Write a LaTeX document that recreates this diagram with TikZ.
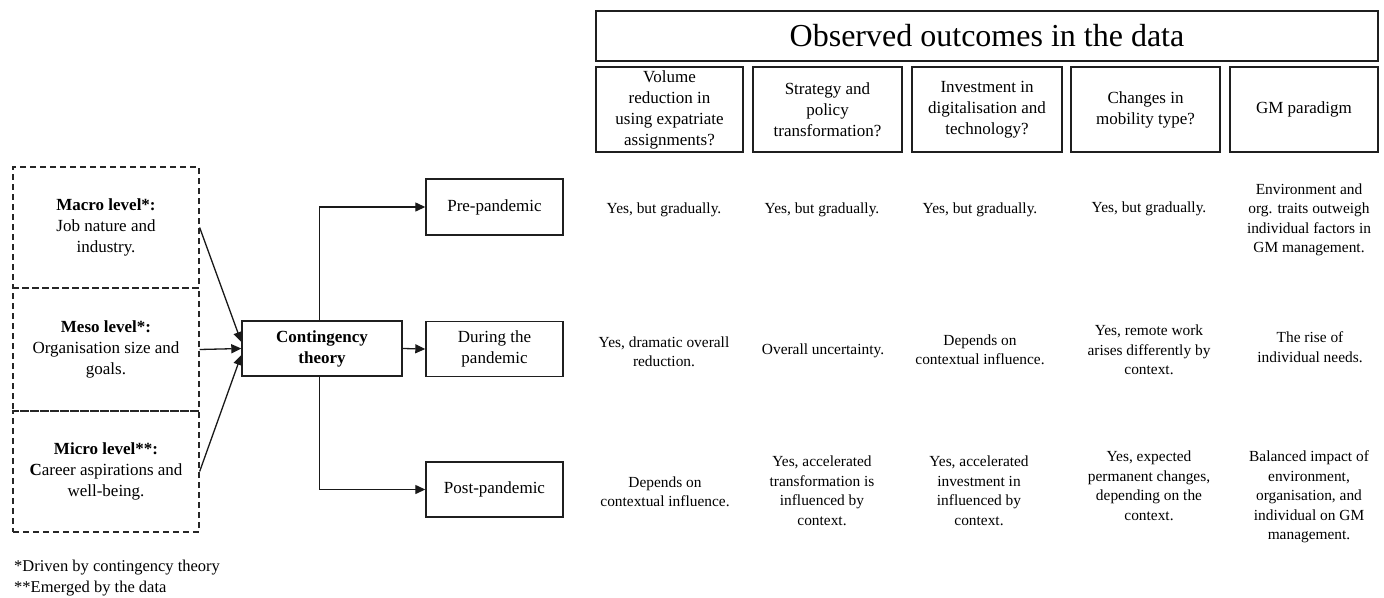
\documentclass[tikz,border=0pt]{standalone}
\usepackage{fontspec}
\setmainfont{Liberation Serif}
\usetikzlibrary{arrows.meta}
\newcommand{\fsbig}{\fontsize{32}{38}\selectfont}
\newcommand{\fsmid}{\fontsize{17}{21}\selectfont}
\newcommand{\fshead}{\fontsize{17}{21}\selectfont}
\newcommand{\fsbody}{\fontsize{15.4}{19.5}\selectfont}
\begin{document}
\begin{tikzpicture}[x=1pt,y=-1pt,
  solidbox/.style={draw=black!88, line width=1.4pt, inner sep=0pt, align=center, font=\fsmid},
  headbox/.style={draw=black!88, line width=1.5pt, inner sep=0pt, align=center, font=\fshead, minimum height=85pt},
  dashbox/.style={draw=black!85, line width=1.3pt, dash pattern=on 6pt off 4pt, inner sep=0pt, align=center, font=\fsmid, minimum width=186pt},
  cell/.style={align=center, font=\fsbody, inner sep=0pt},
  arr/.style={draw=black!90, line width=1.3pt, -{Triangle[length=10pt,width=9pt]}},
  plain/.style={draw=black!90, line width=1.2pt}]
\useasboundingbox (0,0) rectangle (1384,597);

% title and headers
\node[solidbox, font=\fsbig, line width=1.3pt, minimum width=782pt, minimum height=50pt] (title) at (987,36) {Observed outcomes in the data};
\node[headbox, minimum width=147pt] (h1) at (669.5,109.5) {Volume\\reduction in\\using expatriate\\assignments?};
\node[headbox, minimum width=149pt] (h2) at (827.5,109.5) {Strategy and\\policy\\transformation?};
\node[headbox, minimum width=150pt] (h3) at (987,109.5) {Investment in\\digitalisation and\\technology?};
\node[headbox, minimum width=149pt] (h4) at (1145.5,109.5) {Changes in\\mobility type?};
\node[headbox, minimum width=148pt] (h5) at (1304,109.5) {GM paradigm};

% left levels
\node[dashbox, minimum height=121pt] (macro) at (106,227.5) {\textbf{Macro level*:}\\Job nature and\\industry.};
\node[dashbox, minimum height=123pt] (meso) at (106,349.5) {\textbf{Meso level*:}\\Organisation size and\\goals.};
\node[dashbox, minimum height=121pt] (micro) at (106,471.5) {\textbf{Micro level**:}\\\textbf{C}areer aspirations and\\well-being.};

% centre
\node[solidbox, minimum width=160pt, minimum height=55pt] (cont) at (322,348.5) {\textbf{Contingency}\\\textbf{theory}};
\node[solidbox, minimum width=137pt, minimum height=56pt] (pre) at (494.5,207) {Pre-pandemic};
\node[solidbox, minimum width=137pt, minimum height=55pt] (dur) at (494.5,349) {During the\\pandemic};
\node[solidbox, minimum width=137pt, minimum height=55pt] (post) at (494.5,489.5) {Post-pandemic};

% connectors
\draw[arr] (macro.east) -- ([yshift=6.5pt]cont.west);
\draw[arr] (meso.east) -- (cont.west);
\draw[arr] (micro.east) -- ([yshift=-6.5pt]cont.west);
\draw[arr] ([xshift=-2.5pt]cont.north) |- (pre.west);
\draw[arr] ([xshift=-2.5pt]cont.south) |- (post.west);
\draw[arr] (cont.east) -- (dur.west);

% row 1
\node[cell] (r1c1) at (664,210) {Yes, but gradually.};
\node[cell] (r1c2) at (822,210) {Yes, but gradually.};
\node[cell] (r1c3) at (980,210) {Yes, but gradually.};
\node[cell] (r1c4) at (1149,209) {Yes, but gradually.};
\node[cell] (r1c5) at (1309,220) {Environment and\\org. traits outweigh\\individual factors in\\GM management.};

% row 2
\node[cell] (r2c1) at (664,352) {Yes, dramatic overall\\reduction.};
\node[cell] (r2c2) at (823,351) {Overall uncertainty.};
\node[cell] (r2c3) at (980,350) {Depends on\\contextual influence.};
\node[cell] (r2c4) at (1149,350) {Yes, remote work\\arises differently by\\context.};
\node[cell] (r2c5) at (1310,347) {The rise of\\individual needs.};

% row 3
\node[cell] (r3c1) at (665,492) {Depends on\\contextual influence.};
\node[cell] (r3c2) at (822,491) {Yes, accelerated\\transformation is\\influenced by\\context.};
\node[cell] (r3c3) at (979,491) {Yes, accelerated\\investment in\\influenced by\\context.};
\node[cell] (r3c4) at (1149,486) {Yes, expected\\permanent changes,\\depending on the\\context.};
\node[cell] (r3c5) at (1309,497) {Balanced impact of\\environment,\\organisation, and\\individual on GM\\management.};

% footnote
\node[align=left, anchor=west, inner sep=0pt, font=\fontsize{16.5}{21}\selectfont] (foot) at (14,578.5) {*Driven by contingency theory\\**Emerged by the data};
\end{tikzpicture}
\end{document}
